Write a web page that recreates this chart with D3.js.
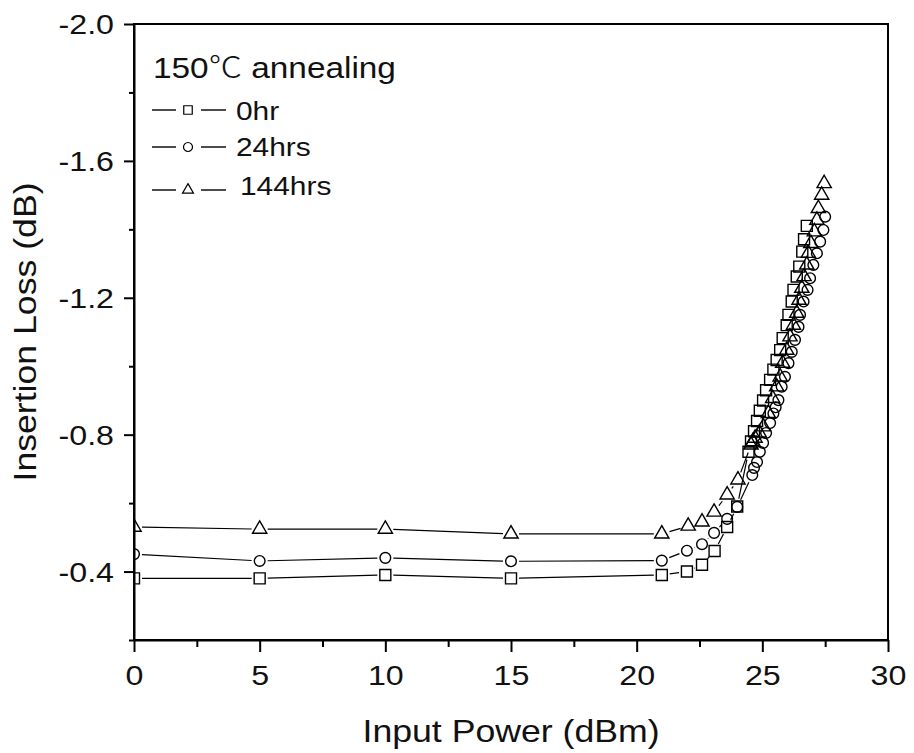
<!DOCTYPE html>
<html>
<head>
<meta charset="utf-8">
<script src="https://cdn.jsdelivr.net/npm/d3@7"></script>
<style>
    body { margin: 0; background: #fff; }
    svg { display: block; }
    text { font-family: "Liberation Sans", Arial, "Noto Sans CJK SC", sans-serif; fill: #111; }
</style>
</head>
<body>
<div id="chart"></div>
<script>
// values (Input Power in dBm, Insertion Loss in dB)
const xTicks = [0, 5, 10, 15, 20, 25, 30];
const xMinor = [2.5, 7.5, 12.5, 17.5, 22.5, 27.5];
const yTicks = [-2.0, -1.6, -1.2, -0.8, -0.4];
const yMinor = [-1.8, -1.4, -1.0, -0.6, -0.2];

const legendTitle = ['150', '\u2103', '\u00a0annealing'];
const seriesNames = ['0hr', '24hrs', '144hrs'];

const power0 = [0, 5, 10, 15, 21, 22, 22.6, 23.1, 23.6, 24.0, 24.45, 24.55, 24.67, 24.79, 24.9, 25.03, 25.15, 25.31, 25.44, 25.57, 25.71, 25.81, 25.97, 26.04, 26.17, 26.24, 26.37, 26.47, 26.59, 26.66, 26.77];
const loss0 = [-0.38, -0.38, -0.39, -0.38, -0.39, -0.40, -0.42, -0.46, -0.53, -0.59, -0.75, -0.78, -0.81, -0.84, -0.87, -0.90, -0.93, -0.96, -0.99, -1.018, -1.047, -1.082, -1.12, -1.15, -1.189, -1.223, -1.262, -1.291, -1.335, -1.371, -1.41];

const power24 = [0, 5, 10, 15, 21, 22, 22.6, 23.08, 23.6, 24.0, 24.6, 24.67, 24.79, 24.9, 25.03, 25.15, 25.31, 25.44, 25.53, 25.64, 25.77, 25.9, 26.04, 26.17, 26.3, 26.44, 26.5, 26.64, 26.8, 26.9, 27.03, 27.17, 27.3, 27.43, 27.5];
const loss24 = [-0.451, -0.431, -0.44, -0.43, -0.432, -0.461, -0.48, -0.513, -0.554, -0.589, -0.682, -0.703, -0.72, -0.75, -0.776, -0.805, -0.834, -0.862, -0.88, -0.901, -0.94, -0.969, -1.009, -1.042, -1.077, -1.115, -1.15, -1.189, -1.223, -1.257, -1.296, -1.33, -1.364, -1.398, -1.437];

const power144 = [0, 5, 10, 15, 21, 22.05, 22.6, 23.08, 23.6, 24.03, 24.55, 24.62, 24.71, 24.88, 25.04, 25.24, 25.41, 25.57, 25.71, 25.81, 25.97, 26.1, 26.24, 26.37, 26.46, 26.57, 26.66, 26.77, 26.83, 26.93, 27.07, 27.17, 27.23, 27.36, 27.46];
const loss144 = [-0.53, -0.524, -0.524, -0.51, -0.51, -0.533, -0.545, -0.574, -0.624, -0.668, -0.77, -0.78, -0.79, -0.805, -0.823, -0.862, -0.906, -0.94, -0.969, -1.009, -1.047, -1.086, -1.12, -1.155, -1.193, -1.228, -1.262, -1.296, -1.33, -1.359, -1.393, -1.427, -1.461, -1.50, -1.534];

const SX = 1.15; // the text in the picture is drawn a bit wide

let margin = { top: 24, right: 26, bottom: 113, left: 134 },
    width = 914 - margin.left - margin.right,
    height = 753 - margin.top - margin.bottom;

let xScale = d3.scaleLinear().domain([0, 30]).range([0, width]);
let yScale = d3.scaleLinear().domain([-0.2, -2.0]).range([height, 0]);

let svg = d3.select('#chart')
    .append('svg')
    .attr('width', 914)
    .attr('height', 753);

let g = svg.append('g')
    .attr('transform', `translate(${margin.left},${margin.top})`);

g.append('clipPath')
    .attr('id', 'plotClip')
    .append('rect')
    .attr('width', width)
    .attr('height', height);

// axes
let yAxis = g.append('g')
    .call(d3.axisLeft(yScale).tickValues(yTicks).tickSize(10).tickSizeOuter(0)
        .tickFormat(d => d3.format('.1f')(d).replace('\u2212', '-')));
let yAxisMinor = g.append('g')
    .call(d3.axisLeft(yScale).tickValues(yMinor).tickSize(5).tickFormat(''));

let xAxis = g.append('g')
    .attr('transform', `translate(0,${height})`)
    .call(d3.axisBottom(xScale).tickValues(xTicks).tickSize(12).tickSizeOuter(0));
let xAxisMinor = g.append('g')
    .attr('transform', `translate(0,${height})`)
    .call(d3.axisBottom(xScale).tickValues(xMinor).tickSize(7).tickFormat(''));

[yAxisMinor, xAxisMinor].forEach(a => a.select('.domain').remove());
[yAxis, yAxisMinor, xAxis, xAxisMinor].forEach(a => {
    a.selectAll('line').attr('stroke', '#000').attr('stroke-width', 2);
    a.select('.domain').attr('stroke', '#000').attr('stroke-width', 2);
});

yAxis.selectAll('text')
    .attr('x', -20 / SX)
    .attr('dy', '0.34em')
    .attr('transform', `scale(${SX},1)`)
    .style('font-size', '28px')
    .attr('fill', '#111');

xAxis.selectAll('text')
    .attr('y', 45)
    .attr('dy', 0)
    .attr('transform', `scale(${SX},1)`)
    .style('font-size', '28px')
    .attr('fill', '#111');

// frame
g.append('rect')
    .attr('width', width)
    .attr('height', height)
    .attr('fill', 'none')
    .attr('stroke', '#000')
    .attr('stroke-width', 2);

// series
let series = [
    { xs: power0, ys: loss0, shape: d3.symbolSquare, size: 121 },
    { xs: power24, ys: loss24, shape: d3.symbolCircle, size: 90 },
    { xs: power144, ys: loss144, shape: d3.symbolTriangle, size: 88 }
];

let plot = g.append('g').attr('clip-path', 'url(#plotClip)');
const gap = 8;

series.forEach(s => {
    let pts = s.xs.map((x, i) => [xScale(x), yScale(s.ys[i])]);
    // line pieces stop short of each symbol
    for (let i = 0; i < pts.length - 1; i++) {
        let p = pts[i], q = pts[i + 1];
        let dx = q[0] - p[0], dy = q[1] - p[1];
        let len = Math.sqrt(dx * dx + dy * dy);
        if (len <= 2 * gap) continue;
        let ux = dx / len, uy = dy / len;
        plot.append('line')
            .attr('x1', p[0] + ux * gap)
            .attr('y1', p[1] + uy * gap)
            .attr('x2', q[0] - ux * gap)
            .attr('y2', q[1] - uy * gap)
            .attr('stroke', '#000')
            .attr('stroke-width', 1.2);
    }
});

series.forEach(s => {
    plot.selectAll('.nope')
        .data(s.xs.map((x, i) => ({ x: x, y: s.ys[i] })))
        .enter()
        .append('path')
        .attr('d', d3.symbol().type(s.shape).size(s.size))
        .attr('transform', d => `translate(${xScale(d.x)},${yScale(d.y)})`)
        .attr('fill', 'none')
        .attr('stroke', '#000')
        .attr('stroke-width', 1.4);
});

// legend
let title = svg.append('text')
    .attr('transform', `translate(153,78) scale(${SX},1)`)
    .style('font-size', '29px');
title.append('tspan').text(legendTitle[0]);
title.append('tspan')
    .style('font-family', '"Noto Sans CJK SC", sans-serif')
    .style('font-weight', 300)
    .text(legendTitle[1]);
title.append('tspan').text(legendTitle[2]);

let legendRows = [
    { y: 110, textY: 120, textX: 236, shape: d3.symbolSquare, size: 72 },
    { y: 147, textY: 156, textX: 236, shape: d3.symbolCircle, size: 64 },
    { y: 190, textY: 195, textX: 240, shape: d3.symbolTriangle, size: 52 }
];

legendRows.forEach((r, i) => {
    svg.append('line')
        .attr('x1', 152).attr('x2', 176)
        .attr('y1', r.y).attr('y2', r.y)
        .attr('stroke', '#000').attr('stroke-width', 1.4);
    svg.append('line')
        .attr('x1', 201).attr('x2', 226)
        .attr('y1', r.y).attr('y2', r.y)
        .attr('stroke', '#000').attr('stroke-width', 1.4);
    svg.append('path')
        .attr('d', d3.symbol().type(r.shape).size(r.size))
        .attr('transform', `translate(188,${r.y})`)
        .attr('fill', 'none')
        .attr('stroke', '#000')
        .attr('stroke-width', 1.2);
    svg.append('text')
        .attr('transform', `translate(${r.textX},${r.textY}) scale(${SX},1)`)
        .style('font-size', '26px')
        .text(seriesNames[i]);
});

// axis titles
svg.append('text')
    .attr('transform', `translate(${margin.left + width / 2},742) scale(${SX},1)`)
    .attr('text-anchor', 'middle')
    .style('font-size', '31px')
    .text('Input Power (dBm)');

svg.append('text')
    .attr('transform', `translate(36,${margin.top + height / 2}) rotate(-90) scale(${SX},1)`)
    .attr('text-anchor', 'middle')
    .style('font-size', '31px')
    .text('Insertion Loss (dB)');
</script>
</body>
</html>
